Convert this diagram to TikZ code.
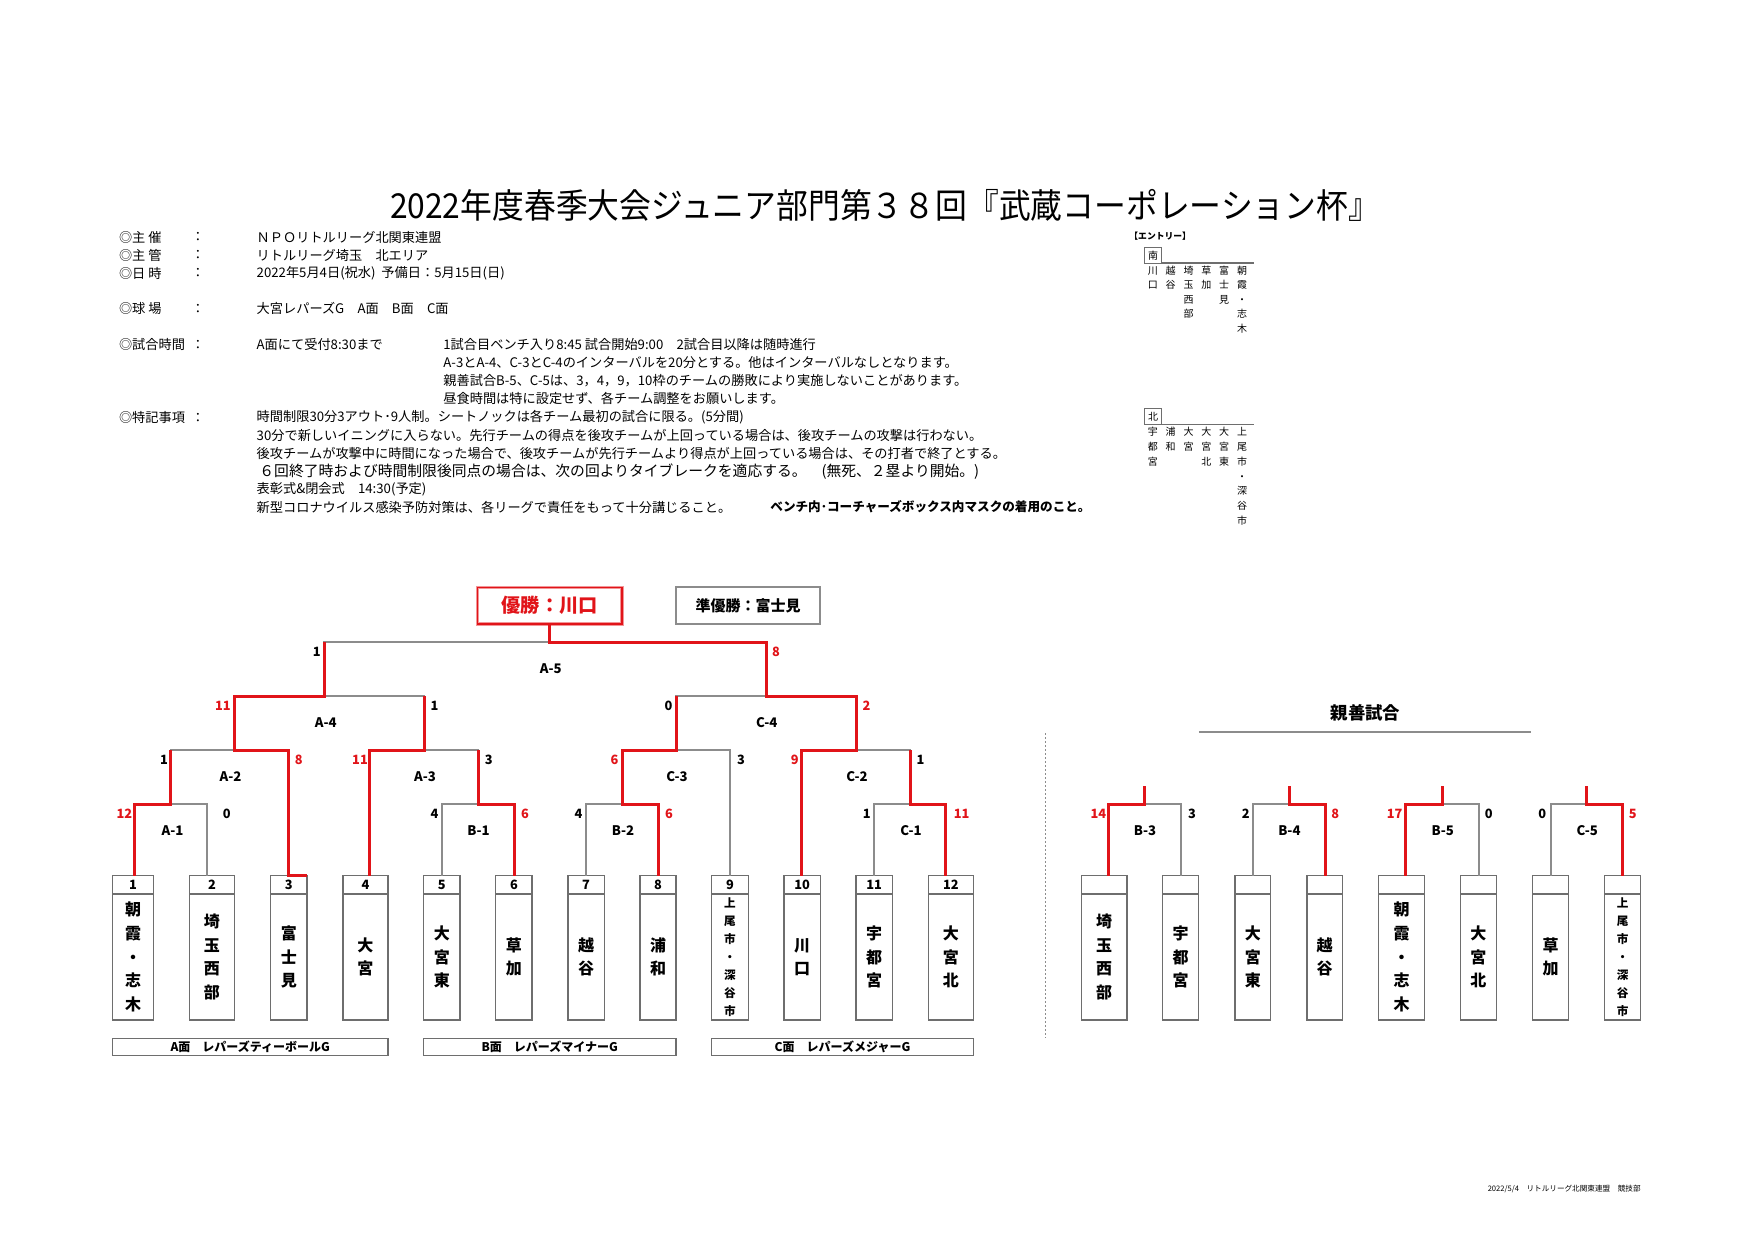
\documentclass[tikz,border=0pt]{standalone}
\usepackage{fontspec}
\setmainfont{Noto Sans CJK JP}
\definecolor{bred}{RGB}{225,20,25}
\definecolor{lgray}{RGB}{140,140,140}
\definecolor{bgray}{RGB}{110,110,110}
\newcommand\myTitleF{\fontsize{15.9}{18}\selectfont}
\newcommand\myInfoF{\fontsize{6.6}{8}\selectfont}
\newcommand\myInfoBF{\fontsize{6.3}{8}\selectfont\bfseries}
\newcommand\myBigF{\fontsize{7.4}{8}\selectfont}
\newcommand\myScF{\fontsize{6.4}{7}\selectfont\bfseries}
\newcommand\myGmF{\fontsize{6.6}{7}\selectfont\bfseries}
\newcommand\myNumF{\fontsize{6.4}{7}\selectfont\bfseries}
\newcommand\myTeamF{\fontsize{8}{11.85}\selectfont\bfseries}
\newcommand\myTeamSF{\fontsize{5.8}{8.95}\selectfont\bfseries}
\newcommand\myEntF{\fontsize{5}{7.25}\selectfont}
\newcommand\myEntNF{\fontsize{5}{7.4}\selectfont}
\newcommand\myEntHF{\fontsize{4.4}{5}\selectfont\bfseries}
\newcommand\myFootF{\fontsize{3.8}{4}\selectfont}
\newcommand\myLblF{\fontsize{6}{7}\selectfont\bfseries}
\newcommand\myWinF{\fontsize{9.6}{10}\selectfont\bfseries}
\newcommand\myRunF{\fontsize{7.5}{8}\selectfont\bfseries}
\newcommand\myFrF{\fontsize{8.7}{9}\selectfont\bfseries}
% team box: #1 id, #2 xl, #3 xr, #4 number, #5 name, #6 name style
\newcommand\TBox[6]{%
  \node[tbox, minimum width={(#3-#2)*0.5pt}, minimum height={(1020-875.7)*0.5pt}] (#1) at ({(#2+#3)/2},947.85) {};
  \draw[boxln] (#2,894) -- (#3,894);
  \node[numst] (#1num) at ({(#2+#3)/2},885) {#4};
  \node[#6] (#1name) at ({(#2+#3)/2},957) {#5};
}
\begin{document}
\begin{tikzpicture}[x=0.5pt,y=-0.5pt,
  gl/.style={draw=lgray, line width=0.9pt},
  rl/.style={draw=bred, line width=1.5pt, line join=miter},
  tbox/.style={draw=bgray, line width=0.75pt, inner sep=0pt, outer sep=0pt},
  boxln/.style={draw=bgray, line width=0.75pt},
  info/.style={anchor=west, inner sep=0pt, font=\myInfoF},
  colon/.style={inner sep=0pt, font=\myInfoF},
  sc/.style={inner sep=0pt, font=\myScF},
  scr/.style={sc, text=bred},
  gm/.style={inner sep=0pt, font=\myGmF},
  numst/.style={inner sep=0pt, font=\myNumF},
  tname/.style={inner sep=0pt, align=center, font=\myTeamF},
  tnames/.style={inner sep=0pt, align=center, font=\myTeamSF},
  ent/.style={inner sep=0pt, align=center, font=\myEntF},
  lbl/.style={draw=bgray, line width=0.75pt, inner sep=0pt, outer sep=0pt, font=\myLblF},
]
\fill[white] (0,0) rectangle (1755,1241);
\useasboundingbox (0,0) rectangle (1755,1241);

% ---------- title ----------
\node[inner sep=0pt, font=\myTitleF] (title) at (885,205) {\scalebox{1}[1.08]{2022年度春季大会ジュニア部門第３８回『武蔵コーポレーション杯』}};

% ---------- info block ----------
\node[info] (k1) at (118.6,237.3) {◎主 催};
\node[colon] (c1) at (198,237.3) {：};
\node[info] (v1) at (256.3,237.3) {ＮＰＯリトルリーグ北関東連盟};
\node[info] (k2) at (118.6,255.2) {◎主 管};
\node[colon] (c2) at (198,255.2) {：};
\node[info] (v2) at (256.3,255.2) {リトルリーグ埼玉　北エリア};
\node[info] (k3) at (118.6,273.1) {◎日 時};
\node[colon] (c3) at (198,273.1) {：};
\node[info] (v3) at (256.3,273.1) {2022年5月4日(祝水)\ \ 予備日：5月15日(日)};
\node[info] (k4) at (118.6,308.9) {◎球 場};
\node[colon] (c4) at (198,308.9) {：};
\node[info] (v4) at (256.3,308.9) {大宮レパーズG　A面　B面　C面};
\node[info] (k5) at (118.6,344.7) {◎試合時間};
\node[colon] (c5) at (198,344.7) {：};
\node[info] (v5) at (256.3,344.7) {A面にて受付8:30まで};
\node[info] (w5) at (443,344.7) {1試合目ベンチ入り8:45 試合開始9:00　2試合目以降は随時進行};
\node[info] (w6) at (443,362.7) {A-3とA-4、C-3とC-4のインターバルを20分とする。他はインターバルなしとなります。};
\node[info] (w7) at (443,380.6) {親善試合B-5、C-5は、3，4，9，10枠のチームの勝敗により実施しないことがあります。};
\node[info] (w8) at (443,398.5) {昼食時間は特に設定せず、各チーム調整をお願いします。};
\node[info] (k9) at (118.6,417.5) {◎特記事項};
\node[colon] (c9) at (198,417.5) {：};
\node[info] (v9) at (256.3,417.5) {時間制限30分3アウト･9人制。シートノックは各チーム最初の試合に限る。(5分間)};
\node[info] (v10) at (256.3,435.4) {30分で新しいイニングに入らない。先行チームの得点を後攻チームが上回っている場合は、後攻チームの攻撃は行わない。};
\node[info] (v11) at (256.3,453.3) {後攻チームが攻撃中に時間になった場合で、後攻チームが先行チームより得点が上回っている場合は、その打者で終了とする。};
\node[info, font=\myBigF] (v12) at (259,471.2) {６回終了時および時間制限後同点の場合は、次の回よりタイブレークを適応する。　(無死、２塁より開始。)};
\node[info] (v13) at (256.3,489.1) {表彰式\&閉会式　14:30(予定)};
\node[info] (v14) at (256.3,507) {新型コロナウイルス感染予防対策は、各リーグで責任をもって十分講じること。};
\node[info, font=\myInfoBF] (v14b) at (770,507) {ベンチ内･コーチャーズボックス内マスクの着用のこと。};

% ---------- entry ----------
\node[inner sep=0pt, anchor=west, font=\myEntHF] (enth) at (1129,236) {【エントリー】};
\node[draw=bgray, line width=0.5pt, inner sep=0pt, outer sep=0pt, minimum width=8.25pt, minimum height=7.6pt, font=\myEntF] (south) at (1153.2,255.5) {南};
\coordinate (sl2) at (1253.5,263.1);
\draw[draw=bgray, line width=0.6pt] (south.south east) -- (sl2);
\node[ent] (s1) at (1152.8,277.75) {川\\口};
\node[ent] (s2) at (1170.5,277.75) {越\\谷};
\node[ent] (s3) at (1188.5,292.25) {埼\\玉\\西\\部};
\node[ent] (s4) at (1206.4,277.75) {草\\加};
\node[ent] (s5) at (1224,285) {富\\士\\見};
\node[ent] (s6) at (1242,299.5) {朝\\霞\\・\\志\\木};

\node[draw=bgray, line width=0.5pt, inner sep=0pt, outer sep=0pt, minimum width=8.25pt, minimum height=7.8pt, font=\myEntF] (north) at (1153.2,416.6) {北};
\coordinate (nl2) at (1253.5,424.4);
\draw[draw=bgray, line width=0.6pt] (north.south east) -- (nl2);
\node[ent, font=\myEntNF] (n1) at (1152.8,446.8) {宇\\都\\宮};
\node[ent, font=\myEntNF] (n2) at (1170.5,439.4) {浦\\和};
\node[ent, font=\myEntNF] (n3) at (1188.5,439.4) {大\\宮};
\node[ent, font=\myEntNF] (n4) at (1206.4,446.8) {大\\宮\\北};
\node[ent, font=\myEntNF] (n5) at (1224,446.8) {大\\宮\\東};
\node[ent, font=\myEntNF] (n6) at (1242,476.4) {上\\尾\\市\\・\\深\\谷\\市};

% ---------- winner boxes ----------
\node[draw=bred!45, line width=1.6pt, outer sep=0pt, inner sep=0pt, minimum width=72.25pt, minimum height=18.25pt, font=\myWinF, text=bred] (win) at (549.75,605.75) {優勝：川口};
\draw[bred, line width=0.7pt] (win.south west) rectangle (win.north east);
\node[draw=lgray, line width=1pt, outer sep=0pt, inner sep=0pt, minimum width=72.15pt, minimum height=18.3pt, font=\myRunF] (run) at (748.15,605.65) {準優勝：富士見};

% ---------- team boxes ----------
\TBox{t1}{112.5}{153.6}{1}{朝\\霞\\・\\志\\木}{tname}
\TBox{t2}{189.3}{234.6}{2}{埼\\玉\\西\\部}{tname}
\TBox{t3}{270.7}{306.8}{3}{富\\士\\見}{tname}
\TBox{t4}{342.9}{387.9}{4}{大\\宮}{tname}
\TBox{t5}{423.6}{460}{5}{大\\宮\\東}{tname}
\TBox{t6}{495.7}{532.1}{6}{草\\加}{tname}
\TBox{t7}{567.9}{604.3}{7}{越\\谷}{tname}
\TBox{t8}{640}{676}{8}{浦\\和}{tname}
\TBox{t9}{711.7}{748.3}{9}{上\\尾\\市\\・\\深\\谷\\市}{tnames}
\TBox{t10}{784}{820.3}{10}{川\\口}{tname}
\TBox{t11}{856}{892.3}{11}{宇\\都\\宮}{tname}
\TBox{t12}{928.3}{973.3}{12}{大\\宮\\北}{tname}

\TBox{f1}{1081.4}{1126.8}{}{埼\\玉\\西\\部}{tname}
\TBox{f2}{1162.5}{1198.7}{}{宇\\都\\宮}{tname}
\TBox{f3}{1234.9}{1270.6}{}{大\\宮\\東}{tname}
\TBox{f4}{1306.8}{1342.5}{}{越\\谷}{tname}
\TBox{f5}{1378.7}{1424.5}{}{朝\\霞\\・\\志\\木}{tname}
\TBox{f6}{1460.3}{1496.4}{}{大\\宮\\北}{tname}
\TBox{f7}{1532.6}{1568.7}{}{草\\加}{tname}
\TBox{f8}{1604.5}{1640.6}{}{上\\尾\\市\\・\\深\\谷\\市}{tnames}

% ---------- field labels ----------
\node[lbl, minimum width={(387.9-112.5)*0.5pt}, minimum height=8.6pt] (fa) at (250.2,1047.1) {A面　レパーズティーボールG};
\node[lbl, minimum width={(676-423.6)*0.5pt}, minimum height=8.6pt] (fb) at (549.8,1047.1) {B面　レパーズマイナーG};
\node[lbl, minimum width={(973.3-711.7)*0.5pt}, minimum height=8.6pt] (fc) at (842.5,1047.1) {C面　レパーズメジャーG};

% ---------- bracket coordinates ----------
\coordinate (p1) at (134.6,875.7);
\coordinate (p2) at (207,875.7);
\coordinate (p3) at (288.2,875.7);
\coordinate (p3r) at (306.8,875.7);
\coordinate (p4) at (369.6,875.7);
\coordinate (p5) at (441.8,875.7);
\coordinate (p6) at (514.3,875.7);
\coordinate (p7) at (585.7,875.7);
\coordinate (p8) at (658.3,875.7);
\coordinate (p9) at (730,875.7);
\coordinate (p10) at (801.7,875.7);
\coordinate (p11) at (874,875.7);
\coordinate (p12) at (945.7,875.7);
\coordinate (gA1) at (170.8,804);
\coordinate (gB1) at (478,804);
\coordinate (gB2) at (622,804);
\coordinate (gC1) at (910,804);
\coordinate (gA2) at (234.6,750);
\coordinate (gA3) at (424,750);
\coordinate (gC3) at (676,750);
\coordinate (gC2) at (856,750);
\coordinate (gA4) at (324.3,696);
\coordinate (gC4) at (766,696);
\coordinate (gA5) at (549.5,642);

% gray (all)
\draw[gl] (p1) |- (gA1) -| (p2);
\draw[gl] (p5) |- (gB1) -| (p6);
\draw[gl] (p7) |- (gB2) -| (p8);
\draw[gl] (p11) |- (gC1) -| (p12);
\draw[gl] (gA1) |- (gA2) -| (p3);
\draw[gl] (p4) |- (gA3) -| (gB1);
\draw[gl] (gB2) |- (gC3) -| (p9);
\draw[gl] (p10) |- (gC2) -| (gC1);
\draw[gl] (gA2) |- (gA4) -| (gA3);
\draw[gl] (gC3) |- (gC4) -| (gC2);
\draw[gl] (gA4) |- (gA5) -| (gC4);

% red (winners)
\draw[rl] (p1) |- (gA1) -- (gA1 |- gA2);
\draw[rl] (p3r) -- (p3) |- (gA2) |- (gA4) -- (gA4 |- gA5);
\draw[rl] (p4) |- (gA3) -- (gA3 |- gA4);
\draw[rl] (p6) |- (gB1) -- (gB1 |- gA3);
\draw[rl] (p8) |- (gB2) |- (gC3) -- (gC3 |- gC4);
\draw[rl] (p10) |- (gC2) |- (gC4) |- (gA5) -- (gA5 |- win.south);
\draw[rl] (p12) |- (gC1) -- (gC1 |- gC2);

% scores
\node[sc] (s51) at (316.8,651.5) {1};
\node[scr] (s52) at (776,651.5) {8};
\node[scr] (s41) at (222.9,705.5) {11};
\node[sc] (s42) at (434.5,705.5) {1};
\node[sc] (s43) at (668.6,705.5) {0};
\node[scr] (s44) at (866.6,705.5) {2};
\node[sc] (s31) at (164,759.5) {1};
\node[scr] (s32) at (298.8,759.5) {8};
\node[scr] (s33) at (360,759.5) {11};
\node[sc] (s34) at (488.7,759.5) {3};
\node[scr] (s35) at (614.6,759.5) {6};
\node[sc] (s36) at (741,759.5) {3};
\node[scr] (s37) at (794.8,759.5) {9};
\node[sc] (s38) at (920.4,759.5) {1};
\node[scr] (s21) at (124.3,813.5) {12};
\node[sc] (s22) at (226.8,813.5) {0};
\node[sc] (s23) at (434.6,813.5) {4};
\node[scr] (s24) at (525,813.5) {6};
\node[sc] (s25) at (578.6,813.5) {4};
\node[scr] (s26) at (669,813.5) {6};
\node[sc] (s27) at (866.7,813.5) {1};
\node[scr] (s28) at (961.7,813.5) {11};

% game labels
\node[gm] (mA5) at (550.7,668.5) {A-5};
\node[gm] (mA4) at (325.7,722.5) {A-4};
\node[gm] (mC4) at (766.7,722.5) {C-4};
\node[gm] (mA2) at (230.5,776.5) {A-2};
\node[gm] (mA3) at (425,776.5) {A-3};
\node[gm] (mC3) at (677,776.5) {C-3};
\node[gm] (mC2) at (857,776.5) {C-2};
\node[gm] (mA1) at (172.5,830.5) {A-1};
\node[gm] (mB1) at (478.6,830.5) {B-1};
\node[gm] (mB2) at (623,830.5) {B-2};
\node[gm] (mC1) at (911,830.5) {C-1};

% ---------- friendly games ----------
\node[inner sep=0pt, font=\myFrF] (frt) at (1365.5,713) {親善試合};
\coordinate (fl1) at (1198.8,732);
\coordinate (fl2) at (1531.2,732);
\draw[draw=lgray, line width=0.8pt] (fl1) -- (fl2);
\coordinate (dl1) at (1045,733);
\coordinate (dl2) at (1045,1037.6);
\draw[draw=lgray, line width=0.5pt, dash pattern=on 1pt off 1pt] (dl1) -- (dl2);

\coordinate (q1) at (1108.3,875.7);
\coordinate (q2) at (1180.6,875.7);
\coordinate (q3) at (1252.9,875.7);
\coordinate (q4) at (1325.3,875.7);
\coordinate (q5) at (1405.6,875.7);
\coordinate (q6) at (1478.7,875.7);
\coordinate (q7) at (1550.7,875.7);
\coordinate (q8) at (1622.6,875.7);
\coordinate (gB3) at (1144.5,804);
\coordinate (gB4) at (1289.1,804);
\coordinate (gB5) at (1442.2,804);
\coordinate (gC5) at (1586.7,804);
\coordinate (hB3) at (1144.5,786);
\coordinate (hB4) at (1289.1,786);
\coordinate (hB5) at (1442.2,786);
\coordinate (hC5) at (1586.7,786);
\draw[gl] (q1) |- (gB3) -| (q2);
\draw[gl] (q3) |- (gB4) -| (q4);
\draw[gl] (q5) |- (gB5) -| (q6);
\draw[gl] (q7) |- (gC5) -| (q8);
\draw[rl] (q1) |- (gB3) -- (hB3);
\draw[rl] (q4) |- (gB4) -- (hB4);
\draw[rl] (q5) |- (gB5) -- (hB5);
\draw[rl] (q8) |- (gC5) -- (hC5);

\node[scr] (x1) at (1098.3,813.5) {14};
\node[sc] (x2) at (1192,813.5) {3};
\node[sc] (x3) at (1245.8,813.5) {2};
\node[scr] (x4) at (1335.3,813.5) {8};
\node[scr] (x5) at (1394.7,813.5) {17};
\node[sc] (x6) at (1488.8,813.5) {0};
\node[sc] (x7) at (1542.3,813.5) {0};
\node[scr] (x8) at (1632.8,813.5) {5};
\node[gm] (mB3) at (1145,830.5) {B-3};
\node[gm] (mB4) at (1289.4,830.5) {B-4};
\node[gm] (mB5) at (1442.8,830.5) {B-5};
\node[gm] (mC5) at (1587.2,830.5) {C-5};

% ---------- footer ----------
\node[inner sep=0pt, anchor=east, font=\myFootF] (foot) at (1641,1188.7) {2022/5/4　リトルリーグ北関東連盟　競技部};
\end{tikzpicture}
\end{document}
